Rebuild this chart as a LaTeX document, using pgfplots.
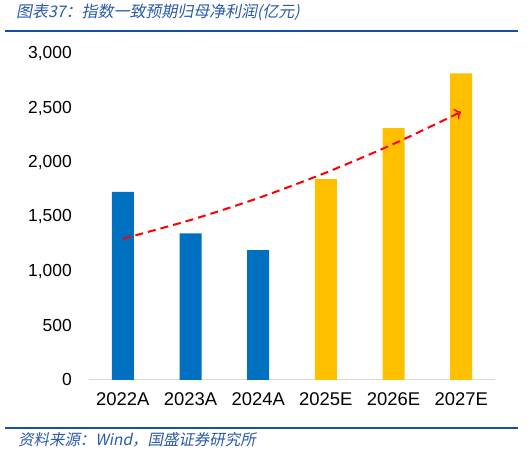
\documentclass[border=0pt]{standalone}
\usepackage{fontspec}
\setmainfont{Liberation Sans}
\newfontfamily\cjk[FakeSlant=0.2]{Noto Sans CJK SC}
\usepackage{pgfplots}
\pgfplotsset{compat=1.18}
\usetikzlibrary{arrows.meta}

\definecolor{barblue}{RGB}{0,112,192}
\definecolor{baryellow}{RGB}{255,192,0}
\definecolor{titleblue}{RGB}{40,90,170}
\definecolor{ruleblue}{RGB}{20,80,170}
\definecolor{axisgray}{RGB}{217,217,217}

\begin{document}
\begin{tikzpicture}[x=1bp,y=1bp]
\useasboundingbox (0,0) rectangle (532,453);

% title and rules
\node[anchor=west, inner sep=0pt, text=titleblue] at (16,440.5)
  {\fontsize{16}{19}\selectfont\cjk 图表37：指数一致预期归母净利润(亿元)};
\draw[ruleblue, line width=2.5bp] (5,422) -- (518,422);
\draw[ruleblue, line width=1.5bp] (5,25) -- (518,25);
\node[anchor=west, inner sep=0pt, text=titleblue] at (18,13)
  {\fontsize{15.5}{18}\selectfont\cjk 资料来源：Wind，国盛证券研究所};

\begin{axis}[
    at={(89bp,73bp)}, anchor=south west,
    scale only axis,
    width=406bp, height=326bp,
    xmin=-0.5, xmax=5.5,
    ymin=0, ymax=3000,
    axis x line=bottom, axis y line=left,
    x axis line style={draw=axisgray, line width=1bp, -},
    y axis line style={draw=none},
    major tick length=0pt,
    xtick={0,1,2,3,4,5},
    xticklabels={2022A,2023A,2024A,2025E,2026E,2027E},
    ytick={0,500,1000,1500,2000,2500,3000},
    scaled y ticks=false,
    /pgf/number format/.cd, fixed, 1000 sep={,}, assume math mode=true,
    /pgfplots/.cd,
    tick label style={font=\fontsize{17.5}{20}\selectfont, text=black},
    xticklabel style={font=\fontsize{18.5}{21}\selectfont, anchor=north, inner sep=0pt, yshift=-12bp},
    yticklabel style={anchor=east, inner sep=0pt, xshift=-17bp},
    ybar, bar width=22bp,
]
\addplot[ybar, bar shift=0pt, fill=barblue, draw=none] coordinates {
    (0,1732)(1,1350)(2,1194)
};
\addplot[ybar, bar shift=0pt, fill=baryellow, draw=none] coordinates {
    (3,1849)(4,2318)(5,2822)
};
\addplot[sharp plot, smooth, red, line width=2bp, dash pattern=on 8bp off 5bp,
    -{To[length=6bp,width=12bp,line width=1.4bp]}] coordinates {
    (0,1300)(1,1472)(2,1674)(3,1908)(4,2172)(5,2468)
};
\end{axis}
\end{tikzpicture}
\end{document}
